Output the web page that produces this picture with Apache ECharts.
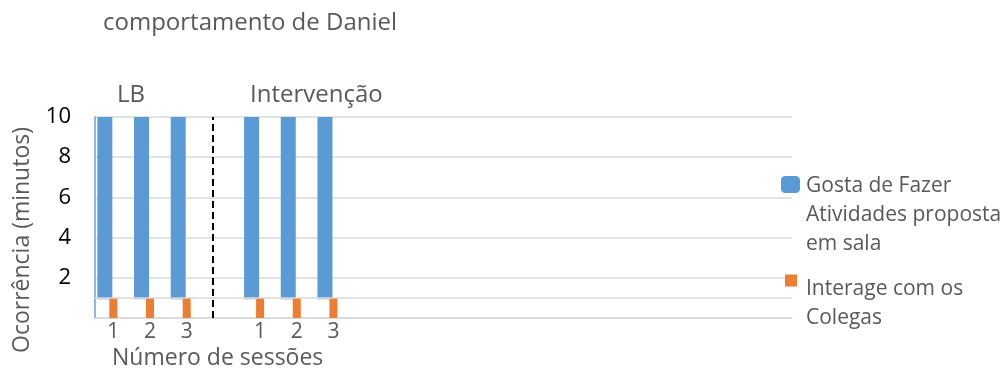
<!DOCTYPE html>
<html>
<head>
<meta charset="utf-8">
<script src="https://cdn.jsdelivr.net/npm/echarts@6/dist/echarts.min.js"></script>
<style>
html,body{margin:0;padding:0;background:#fff;}
#chart{width:1005px;height:370px;}
</style>
</head>
<body>
<div id="chart"></div>
<script>
// ---- data ----
const sessionLabels = ['1','2','3','','1','2','3','','','','','','','','','','','',''];
const gostaValues = [10,10,10,null,10,10,10];
const gostaBase = [1,1,1,null,1,1,1];
const interageValues = [1,1,1,null,1,1,1];
const yTicks = [2,4,6,8,10];
const phaseDivider = 3.22;
const seriesNames = ['Gosta de Fazer\nAtividades proposta\nem sala', 'Interage com os\nColegas'];
const titleText = 'comportamento de Daniel';
const phaseLabels = ['LB', 'Intervenção'];
const xName = 'Número de sessões';
const yName = 'Ocorrência (minutos)';

const BLUE = '#5b9bd5', ORANGE = '#ed7d31', GRAY = '#595959', GRID = '#d9d9d9';
const FONT = '"Open Sans", sans-serif';

const chart = echarts.init(document.getElementById('chart'));

const gostaData = [];
gostaValues.forEach((v, i) => { if (v != null) gostaData.push([i, v, gostaBase[i]]); });

function legendFmt(name) {
  return '{s| }\n' + name.split('\n').map(l => '{t|' + l + '}').join('\n');
}
function legendText(spacer, padLeft) {
  return {
    color: GRAY, fontSize: 21, fontFamily: FONT,
    rich: {
      s: { fontSize: 4, lineHeight: spacer },
      t: { color: GRAY, fontSize: 21, fontFamily: FONT, lineHeight: 29, padding: [0, 0, 0, padLeft] }
    }
  };
}

chart.setOption({
  animation: false,
  textStyle: { fontFamily: FONT },
  grid: { left: 95, right: 213, top: 117, bottom: 52 },
  xAxis: [{
    type: 'category', data: sessionLabels,
    axisLine: { show: true, lineStyle: { color: GRID, width: 1.5 } },
    axisTick: { show: false },
    axisLabel: { interval: 0, color: GRAY, fontSize: 21, fontFamily: FONT, margin: 4 }
  }, {
    type: 'value', min: 0, max: sessionLabels.length, show: false
  }],
  yAxis: {
    type: 'value', min: 0, max: 10, interval: 2,
    axisLine: { show: true, lineStyle: { color: '#8db8e2', width: 2 } },
    axisTick: { show: false },
    splitLine: { lineStyle: { color: GRID, width: 1.5 } },
    axisLabel: {
      color: '#000', fontSize: 22, fontFamily: FONT, margin: 24,
      formatter: v => (yTicks.indexOf(v) >= 0 ? String(v) : '')
    }
  },
  legend: [{
    data: [{ name: seriesNames[0], icon: 'roundRect' }],
    left: 781, top: 139, padding: 0, orient: 'vertical',
    itemWidth: 19, itemHeight: 17,
    formatter: legendFmt,
    textStyle: legendText(61, 1)
  }, {
    data: [{ name: seriesNames[1], icon: 'rect' }],
    left: 785, top: 249.5, padding: 0, orient: 'vertical',
    itemWidth: 12, itemHeight: 12,
    formatter: legendFmt,
    textStyle: legendText(47, 4)
  }],
  series: [{
    name: seriesNames[0],
    type: 'custom',
    itemStyle: { color: BLUE },
    data: gostaData,
    encode: { x: 0, y: [1, 2] },
    renderItem: function (params, api) {
      const idx = api.value(0);
      const top = api.coord([idx, api.value(1)]);
      const bot = api.coord([idx, api.value(2)]);
      return {
        type: 'group',
        children: [{
          type: 'rect',
          shape: { x: top[0] - 16, y: top[1], width: 15, height: bot[1] - top[1] },
          style: { fill: BLUE }
        }, {
          type: 'rect',
          shape: { x: top[0] - 16, y: bot[1], width: 14, height: 1.5 },
          style: { fill: '#9dc3e6' }
        }]
      };
    }
  }, {
    name: seriesNames[1],
    type: 'bar',
    data: interageValues,
    barWidth: 8,
    itemStyle: { color: ORANGE },
    z: 3,
    markLine: {
      silent: true, symbol: 'none', label: { show: false },
      lineStyle: { color: GRID, type: 'solid', width: 1.5 },
      data: [{ yAxis: 1 }]
    }
  }, {
    name: 'divider',
    type: 'line', xAxisIndex: 1, data: [],
    markLine: {
      silent: true, symbol: 'none', label: { show: false },
      lineStyle: { color: '#000', type: [7, 4], width: 2 },
      data: [{ xAxis: phaseDivider }]
    }
  }],
  graphic: [
    { type: 'text', x: 103, y: 23, style: { text: titleText, fill: GRAY, font: '24px ' + FONT, textVerticalAlign: 'middle' } },
    { type: 'text', x: 117, y: 95, style: { text: phaseLabels[0], fill: GRAY, font: '24px ' + FONT, textVerticalAlign: 'middle' } },
    { type: 'text', x: 250, y: 95, style: { text: phaseLabels[1], fill: GRAY, font: '24px ' + FONT, textVerticalAlign: 'middle' } },
    { type: 'text', x: 112, y: 358, style: { text: xName, fill: GRAY, font: '23px ' + FONT, textVerticalAlign: 'middle' } },
    { type: 'text', x: 22, y: 240, rotation: Math.PI / 2, style: { text: yName, fill: GRAY, font: '23px ' + FONT, textAlign: 'center', textVerticalAlign: 'middle' } }
  ]
});
</script>
</body>
</html>
